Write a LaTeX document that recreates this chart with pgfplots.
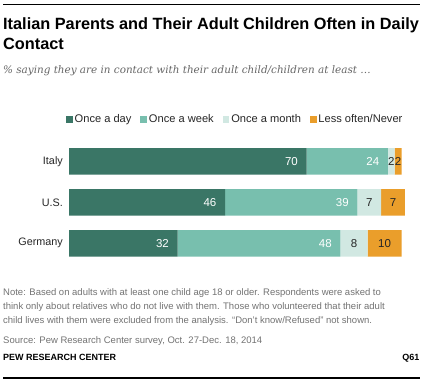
\documentclass[border=0pt]{standalone}
\usepackage{pgfplots}
\pgfplotsset{compat=1.18}
\usepackage{pgfplotstable}
\usepackage{fontspec}
\setmainfont{Liberation Sans}
\newfontfamily\subfont{DejaVu Serif}
\definecolor{cday}{HTML}{3A7666}
\definecolor{cweek}{HTML}{78BFAE}
\definecolor{cmonth}{HTML}{D1E8E2}
\definecolor{cless}{HTML}{EA9E2B}
\definecolor{notegray}{HTML}{737373}
\definecolor{subgray}{HTML}{666666}
\pgfplotstableread{
c v
0 70
1 46
2 32
}\tday
\pgfplotstableread{
c v
0 24
1 39
2 48
}\tweek
\pgfplotstableread{
c v
0 2
1 7
2 8
}\tmonth
\pgfplotstableread{
c v
0 2
1 7
2 10
}\tless
\begin{document}
\begin{tikzpicture}
\useasboundingbox (0,0) rectangle (423pt,-382pt);
\fill[white] (0,0) rectangle (423pt,-382pt);
\draw[line width=1.2pt] (3pt,-4.3pt) -- (420pt,-4.3pt);
\node[anchor=base west, inner sep=0pt, font=\fontsize{16.3}{18}\selectfont\bfseries] at (3pt,-29.3pt) {Italian Parents and Their Adult Children Often in Daily};
\node[anchor=base west, inner sep=0pt, font=\fontsize{16.3}{18}\selectfont\bfseries] at (3pt,-50pt) {Contact};
\node[anchor=base west, inner sep=0pt, text=subgray, font=\subfont\itshape\fontsize{10.4}{12}\selectfont] at (3pt,-73.5pt) {\% saying they are in contact with their adult child/children at least \dots};
\begin{axis}[
  at={(69pt,-140.8pt)}, anchor=north west,
  scale only axis, width=339.3pt, height=123pt,
  xbar stacked, bar width=26.5pt,
  xmin=0, xmax=100, ymin=-0.5, ymax=2.5,
  y dir=reverse,
  axis line style={draw=none},
  xtick=\empty,
  ytick={0,1,2}, yticklabels={Italy,U.S.,Germany},
  tick style={draw=none}, major tick length=0pt,
  yticklabel style={inner sep=0pt, xshift=-6pt, font=\fontsize{10.8}{12}\selectfont, text=black!85},
  /pgf/number format/assume math mode=true,
  nodes near coords, point meta=explicit,
  every node near coord/.append style={font=\fontsize{11.5}{12}\selectfont, inner sep=0pt},
  legend columns=4,
  legend style={draw=none, fill=none, at={(axis description cs:0,1)}, anchor=west, xshift=-6pt, yshift=21.5pt,
    font=\fontsize{11.1}{12}\selectfont, text=black!85,
    nodes={inner xsep=0pt, inner ysep=1pt},
    /tikz/every odd column/.append style={column sep=1.8pt},
    /tikz/every even column/.append style={column sep=9pt}},
  legend image code/.code={\fill[#1] (0pt,-3.3pt) rectangle (6.7pt,3.3pt);},
]
\addplot[fill=cday, draw=none, visualization depends on={rawx \as \segv}, every node near coord/.append style={anchor=east, xshift={1.6965pt*\segv-8.5pt}, text=white}] table[x=v, y=c, meta=v] {\tday};
\addlegendentry{Once a day}
\addplot[fill=cweek, draw=none, visualization depends on={rawx \as \segv}, every node near coord/.append style={anchor=east, xshift={1.6965pt*\segv-8.5pt}, text=white}] table[x=v, y=c, meta=v] {\tweek};
\addlegendentry{Once a week}
\addplot[fill=cmonth, draw=none, every node near coord/.append style={anchor=center, text=black!85}] table[x=v, y=c, meta=v] {\tmonth};
\addlegendentry{Once a month}
\addplot[fill=cless, draw=none, every node near coord/.append style={anchor=center, text=black!85}] table[x=v, y=c, meta=v] {\tless};
\addlegendentry{Less often/Never}
\end{axis}
\begin{scope}[every node/.style={anchor=base west, inner sep=0pt, text=notegray, font=\fontsize{9.5}{11}\selectfont}]
\node at (3pt,-295.5pt) {Note: Based on adults with at least one child age 18 or older. Respondents were asked to};
\node at (3pt,-309.5pt) {think only about relatives who do not live with them. Those who volunteered that their adult};
\node at (3pt,-323pt) {child lives with them were excluded from the analysis. “Don’t know/Refused” not shown.};
\node at (3pt,-343.5pt) {Source: Pew Research Center survey, Oct. 27-Dec. 18, 2014};
\end{scope}
\node[anchor=base west, inner sep=0pt, font=\fontsize{9}{11}\selectfont\bfseries] at (3pt,-360.5pt) {PEW RESEARCH CENTER};
\node[anchor=base east, inner sep=0pt, font=\fontsize{9}{11}\selectfont\bfseries] at (419.5pt,-360.5pt) {Q61};
\draw[line width=1.2pt] (3pt,-378pt) -- (420pt,-378pt);
\end{tikzpicture}
\end{document}
